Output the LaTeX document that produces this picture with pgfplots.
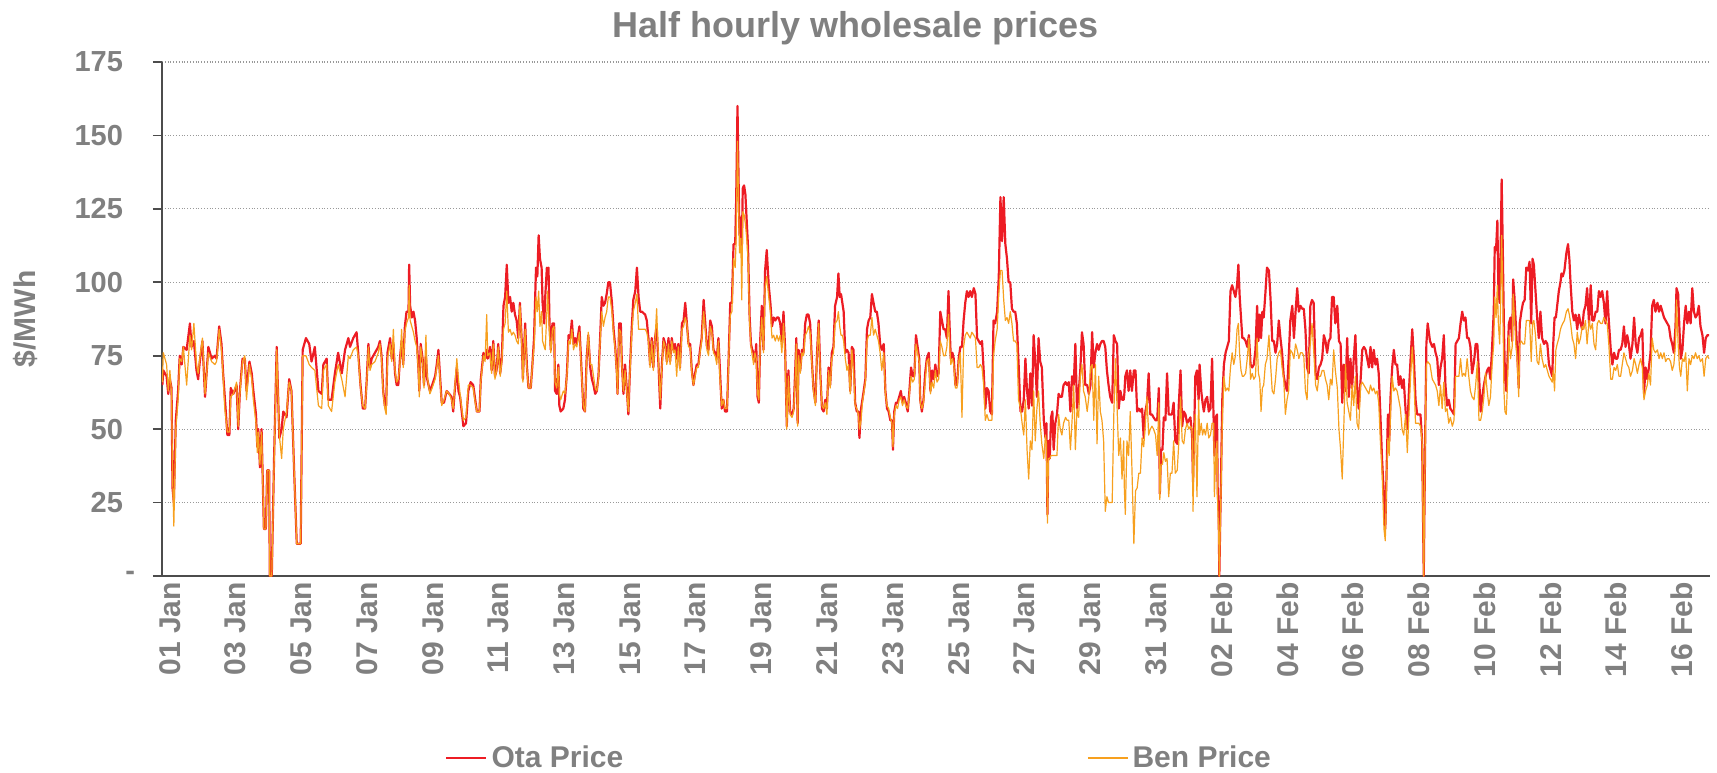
\documentclass[border=0pt]{standalone}
\usepackage{fontspec}
\setmainfont{Liberation Sans}
\usepackage{pgfplots}
\pgfplotsset{compat=1.18}
\usepackage{pgfplotstable}
\definecolor{txtgray}{RGB}{128,128,128}
\definecolor{otared}{RGB}{237,28,36}
\definecolor{benorange}{RGB}{247,160,30}
\pgfplotstableread{
t ota ben
-0.23 65 66
-0.20 70 76
-0.10 68 72
-0.05 62 63
0.00 67 70
0.05 64 62
0.08 30 35
0.12 25 17
0.18 53 50
0.25 63 60
0.30 75 74
0.36 72 73
0.41 78 78
0.51 77 65
0.61 86 82
0.66 78 77
0.73 80 86
0.81 70 72
0.86 67 69
0.91 73 74
0.99 80 81
1.07 61 62
1.17 78 76
1.27 74 73
1.37 75 72
1.42 74 73
1.50 85 84
1.57 79 77
1.62 69 68
1.67 61 57
1.75 48 49
1.81 48 49
1.85 64 61
1.93 62 62
2.03 65 66
2.08 50 51
2.13 63 62
2.21 74 73
2.28 74 75
2.33 63 60
2.42 73 72
2.49 69 67
2.54 63 60
2.62 55 52
2.66 44 42
2.69 50 49
2.74 37 38
2.79 50 49
2.86 16 16
2.92 16 16
2.96 36 36
3.02 36 36
3.04 0 0
3.10 0 0
3.17 40 38
3.25 78 77
3.33 47 48
3.40 50 40
3.45 56 50
3.55 54 56
3.63 67 66
3.70 63 63
3.78 36 36
3.86 11 11
3.98 11 11
4.04 77 75
4.14 81 75
4.24 79 72
4.31 73 71
4.41 78 70
4.52 63 58
4.62 62 57
4.67 72 70
4.77 74 72
4.82 60 58
4.92 60 56
5.02 69 66
5.12 76 72
5.23 69 67
5.33 77 61
5.43 81 75
5.48 78 74
5.58 81 77
5.68 83 78
5.73 76 75
5.80 65 64
5.87 57 58
5.94 57 57
5.99 67 66
6.04 79 78
6.09 71 70
6.14 74 72
6.24 76 73
6.34 78 76
6.39 80 79
6.44 75 74
6.49 63 62
6.54 58 57
6.58 58 55
6.62 76 74
6.70 81 79
6.75 74 73
6.80 79 84
6.85 69 70
6.90 65 66
6.95 65 67
7.00 74 72
7.05 80 84
7.10 72 71
7.15 85 83
7.20 90 86
7.26 90 88
7.28 106 99
7.31 92 87
7.36 88 85
7.41 90 83
7.46 87 80
7.51 81 78
7.56 71 70
7.59 63 61
7.63 79 78
7.69 74 73
7.73 65 64
7.79 75 82
7.83 67 68
7.91 63 62
7.98 65 64
8.07 68 67
8.12 72 71
8.17 77 75
8.22 68 67
8.27 59 58
8.34 59 60
8.42 63 63
8.50 62 62
8.57 61 60
8.62 56 57
8.68 65 66
8.73 71 74
8.78 63 67
8.83 61 62
8.88 56 57
8.93 51 53
9.01 52 54
9.08 63 65
9.15 66 65
9.23 65 64
9.29 60 59
9.34 56 56
9.42 56 56
9.46 67 66
9.54 76 75
9.59 74 73
9.64 77 89
9.67 74 75
9.74 78 76
9.79 70 69
9.84 80 79
9.89 68 67
9.94 70 70
9.99 79 78
10.05 69 68
10.10 74 73
10.15 92 84
10.20 95 86
10.25 106 97
10.30 93 83
10.35 95 84
10.40 90 82
10.45 93 83
10.50 89 82
10.55 87 80
10.60 81 79
10.65 93 92
10.71 79 78
10.74 67 66
10.81 86 84
10.86 72 71
10.91 64 64
10.98 64 64
11.03 72 72
11.08 81 78
11.14 105 95
11.18 102 90
11.22 116 97
11.26 108 85
11.31 105 90
11.34 93 80
11.39 86 78
11.42 95 77
11.47 105 90
11.49 104 97
11.52 105 90
11.55 86 82
11.59 77 76
11.64 86 84
11.69 86 85
11.72 63 66
11.77 62 64
11.82 72 71
11.85 58 62
11.89 56 60
11.97 57 63
12.02 60 62
12.08 69 68
12.13 82 80
12.18 81 79
12.23 87 84
12.28 79 77
12.33 81 79
12.38 79 78
12.46 85 83
12.53 69 68
12.58 57 58
12.63 56 56
12.68 74 73
12.73 82 83
12.79 71 72
12.84 67 72
12.89 65 68
12.94 62 64
12.99 63 63
13.04 68 67
13.09 81 80
13.14 95 90
13.19 92 85
13.24 93 88
13.29 96 90
13.34 100 95
13.39 100 95
13.45 93 90
13.50 84 82
13.55 78 77
13.60 69 68
13.62 62 62
13.67 86 84
13.72 86 83
13.75 73 72
13.80 62 63
13.85 72 70
13.90 64 63
13.95 55 56
14.00 71 70
14.05 84 82
14.10 94 90
14.16 97 93
14.21 105 96
14.26 95 84
14.31 90 84
14.36 90 84
14.46 89 84
14.51 87 83
14.56 81 80
14.61 72 71
14.66 81 80
14.71 71 70
14.76 81 80
14.81 85 91
14.87 71 72
14.92 57 60
14.97 72 71
15.02 81 80
15.07 79 78
15.12 73 72
15.17 81 79
15.22 73 72
15.27 81 80
15.32 77 76
15.37 79 77
15.42 74 68
15.47 79 78
15.52 71 70
15.58 86 84
15.63 87 85
15.68 93 88
15.73 86 86
15.78 79 78
15.83 79 78
15.88 70 69
15.93 65 65
15.98 69 68
16.03 72 71
16.08 72 71
16.13 77 76
16.18 81 80
16.24 94 90
16.29 86 84
16.34 78 77
16.39 77 75
16.44 87 85
16.49 85 83
16.54 77 76
16.59 76 75
16.64 74 72
16.69 81 80
16.74 69 66
16.79 57 58
16.84 60 60
16.89 56 57
16.95 56 57
17.00 74 73
17.05 93 89
17.10 93 90
17.15 113 108
17.20 113 105
17.23 128 115
17.27 160 148
17.30 137 130
17.33 116 110
17.37 122 115
17.40 110 94
17.43 132 124
17.47 133 123
17.51 130 120
17.55 121 115
17.59 112 108
17.64 88 86
17.68 79 78
17.72 77 75
17.76 76 72
17.80 73 76
17.84 79 74
17.88 61 62
17.92 59 60
17.96 80 79
18.01 92 88
18.06 77 76
18.11 104 98
18.16 111 102
18.22 99 95
18.27 93 90
18.32 85 81
18.37 88 82
18.42 87 80
18.47 88 82
18.52 88 80
18.57 86 82
18.62 80 76
18.67 90 86
18.72 77 75
18.77 51 50
18.82 70 68
18.87 56 55
18.93 55 54
18.98 57 56
19.03 71 68
19.06 81 79
19.10 52 51
19.13 77 75
19.18 70 69
19.23 77 76
19.28 76 75
19.33 86 82
19.38 89 83
19.43 89 85
19.48 86 83
19.53 74 73
19.58 64 63
19.64 59 58
19.69 76 75
19.74 87 86
19.79 69 68
19.84 57 58
19.89 56 57
19.94 60 59
19.99 57 55
20.04 71 70
20.09 65 64
20.14 76 74
20.19 78 76
20.24 92 86
20.30 95 87
20.34 103 90
20.38 95 85
20.42 96 82
20.46 93 82
20.50 90 80
20.55 76 74
20.60 77 70
20.65 76 72
20.70 63 62
20.75 78 77
20.80 77 70
20.85 59 58
20.90 56 57
20.95 56 55
20.98 47 50
21.03 57 53
21.07 60 59
21.11 63 62
21.16 67 66
21.21 84 80
21.26 87 82
21.31 88 82
21.36 96 88
21.41 93 82
21.46 90 84
21.51 90 82
21.56 86 80
21.61 79 76
21.66 77 70
21.72 79 76
21.77 63 62
21.82 57 58
21.87 56 57
21.92 53 54
21.97 53 52
22.00 43 44
22.04 56 55
22.09 59 58
22.14 59 57
22.19 61 60
22.24 63 61
22.29 59 58
22.34 61 60
22.39 59 58
22.45 56 57
22.50 63 62
22.55 71 68
22.60 68 66
22.65 68 67
22.70 82 79
22.75 78 76
22.80 74 73
22.83 60 59
22.88 56 57
22.93 60 59
22.98 69 66
23.03 74 73
23.09 76 74
23.14 63 62
23.19 70 66
23.24 67 64
23.29 72 70
23.34 68 66
23.39 69 67
23.44 90 80
23.49 87 78
23.54 84 75
23.59 84 75
23.64 81 78
23.69 97 89
23.72 86 80
23.76 74 72
23.81 76 74
23.85 74 72
23.90 65 64
23.95 65 64
24.00 74 73
24.05 78 76
24.10 78 54
24.15 87 78
24.20 93 82
24.25 97 83
24.30 95 82
24.35 97 81
24.40 95 83
24.46 98 82
24.51 96 81
24.56 81 71
24.61 80 71
24.66 79 72
24.71 80 71
24.76 70 65
24.81 57 53
24.86 64 55
24.91 63 53
24.96 56 53
25.01 55 53
25.06 87 75
25.11 86 80
25.17 90 84
25.22 102 96
25.27 129 104
25.32 114 104
25.37 129 94
25.42 113 87
25.47 108 88
25.52 100 86
25.57 100 90
25.62 91 86
25.67 90 80
25.72 90 80
25.77 86 79
25.82 73 60
25.88 56 57
25.93 56 52
25.98 60 48
26.03 74 60
26.08 63 43
26.13 57 33
26.18 69 46
26.23 58 43
26.28 82 63
26.33 73 46
26.38 61 57
26.43 81 63
26.48 73 52
26.53 71 45
26.59 53 40
26.64 47 48
26.67 52 45
26.70 21 18
26.73 46 40
26.77 40 40
26.81 54 41
26.85 56 41
26.89 43 41
26.94 52 41
26.99 55 41
27.04 62 55
27.09 61 50
27.14 61 48
27.19 65 52
27.25 66 54
27.30 65 53
27.35 66 53
27.40 56 43
27.45 68 53
27.50 65 65
27.55 79 43
27.60 57 57
27.65 62 54
27.70 70 68
27.75 83 72
27.80 79 63
27.85 65 61
27.91 65 56
27.96 62 61
28.01 65 71
28.06 83 72
28.11 71 53
28.16 76 72
28.21 79 45
28.26 77 68
28.31 79 56
28.36 80 53
28.41 80 46
28.46 78 22
28.51 70 27
28.56 65 25
28.61 61 25
28.67 59 25
28.72 82 55
28.77 80 74
28.82 79 57
28.87 57 41
28.92 63 47
28.97 60 33
29.02 60 46
29.04 62 30
29.07 68 21
29.12 70 46
29.17 63 41
29.22 70 56
29.27 63 37
29.33 70 11
29.38 70 29
29.43 56 30
29.48 57 35
29.53 56 35
29.58 57 47
29.63 47 44
29.68 56 52
29.73 59 61
29.78 69 48
29.83 55 50
29.88 55 51
29.93 54 50
29.99 53 48
30.04 53 41
30.09 64 59
30.12 28 26
30.16 43 38
30.20 43 38
30.24 54 42
30.29 53 39
30.34 69 40
30.39 55 27
30.44 55 35
30.49 55 35
30.54 59 46
30.59 46 35
30.65 45 36
30.70 59 46
30.75 70 61
30.80 51 46
30.85 56 45
30.90 55 50
30.95 52 52
31.00 53 50
31.05 54 51
31.10 48 50
31.13 32 22
31.17 52 46
31.20 68 55
31.25 70 27
31.30 60 60
31.33 72 48
31.38 63 52
31.42 59 48
31.46 56 50
31.51 60 48
31.56 61 52
31.61 56 47
31.66 57 48
31.71 74 52
31.76 52 52
31.78 41 27
31.82 54 40
31.86 55 46
31.88 29 24
31.91 22 15
31.93 0 0
31.96 20 18
31.98 32 28
32.02 60 52
32.07 72 68
32.12 76 63
32.17 78 64
32.22 80 63
32.27 97 71
32.32 99 76
32.37 97 72
32.42 95 75
32.47 99 84
32.51 106 86
32.55 95 75
32.59 88 70
32.63 81 68
32.67 81 68
32.73 80 69
32.78 78 74
32.83 82 81
32.88 72 67
32.93 71 69
32.98 72 67
33.03 77 68
33.08 92 81
33.12 80 69
33.16 89 67
33.20 81 56
33.24 90 64
33.28 88 65
33.33 96 72
33.38 105 74
33.44 104 82
33.49 94 72
33.54 80 63
33.59 80 62
33.64 76 67
33.69 79 74
33.74 87 76
33.79 81 77
33.84 76 71
33.89 68 67
33.94 65 55
33.99 63 60
34.04 74 63
34.09 87 77
34.15 92 76
34.20 81 74
34.25 90 79
34.30 98 77
34.35 90 74
34.40 92 76
34.45 91 76
34.50 91 75
34.55 84 63
34.60 71 60
34.65 69 75
34.70 92 79
34.75 94 86
34.80 93 77
34.86 69 65
34.91 67 63
34.96 71 68
35.01 72 68
35.06 74 70
35.11 82 70
35.16 80 67
35.21 76 65
35.26 80 60
35.31 81 67
35.36 95 65
35.41 95 77
35.46 86 70
35.52 92 64
35.57 80 50
35.62 79 43
35.67 59 33
35.72 72 52
35.77 63 72
35.82 81 59
35.87 61 56
35.92 74 53
35.97 64 65
36.02 74 58
36.07 82 68
36.12 65 52
36.17 57 50
36.23 67 65
36.28 77 66
36.33 78 65
36.38 77 64
36.43 74 63
36.48 71 62
36.53 78 65
36.58 71 63
36.63 77 64
36.68 72 62
36.73 74 63
36.78 69 59
36.83 55 46
36.88 40 36
36.94 27 16
36.98 16 12
37.02 36 34
37.06 55 47
37.10 46 41
37.14 61 56
37.19 71 68
37.24 77 63
37.29 72 64
37.34 72 63
37.39 65 60
37.44 68 57
37.49 64 50
37.54 67 48
37.60 56 55
37.65 50 42
37.70 63 55
37.75 74 68
37.80 84 78
37.85 74 67
37.90 60 52
37.95 55 52
38.00 55 52
38.05 55 51
38.10 46 46
38.15 0 0
38.20 53 52
38.23 79 72
38.27 86 73
38.34 80 72
38.41 78 67
38.46 79 66
38.51 76 65
38.56 74 63
38.61 65 58
38.66 71 65
38.71 74 57
38.76 82 66
38.81 65 56
38.86 58 57
38.91 60 52
38.96 57 54
39.02 56 51
39.07 55 53
39.12 79 68
39.17 80 68
39.22 81 68
39.27 86 74
39.32 90 68
39.37 87 69
39.42 88 68
39.47 81 74
39.52 81 68
39.57 78 63
39.62 69 61
39.68 73 60
39.73 79 65
39.78 79 73
39.83 69 53
39.88 56 53
39.93 61 56
39.98 65 61
40.03 68 69
40.08 70 63
40.13 71 58
40.18 67 61
40.23 78 72
40.28 90 79
40.31 112 95
40.35 111 88
40.39 121 99
40.42 97 86
40.46 93 79
40.49 111 93
40.52 135 116
40.55 115 99
40.59 84 63
40.62 68 56
40.66 63 55
40.69 71 63
40.74 86 82
40.79 88 74
40.84 80 78
40.87 101 96
40.91 95 88
40.95 86 79
40.99 77 74
41.04 64 61
41.07 86 79
41.12 90 80
41.17 93 79
41.22 94 79
41.27 105 87
41.32 104 87
41.37 107 87
41.42 86 73
41.46 108 86
41.50 106 87
41.55 97 82
41.60 88 73
41.65 81 72
41.70 90 79
41.75 81 74
41.81 79 71
41.86 80 72
41.91 79 70
41.96 72 68
42.01 70 67
42.06 68 66
42.09 79 70
42.13 88 63
42.17 88 77
42.21 92 79
42.26 97 81
42.31 100 84
42.34 103 85
42.38 102 86
42.43 104 87
42.49 110 90
42.54 113 91
42.58 108 89
42.62 99 86
42.67 90 81
42.72 87 79
42.77 89 74
42.82 84 83
42.87 89 79
42.92 86 81
42.97 84 85
43.02 90 84
43.07 92 87
43.12 98 79
43.18 86 87
43.23 99 84
43.28 87 86
43.33 87 79
43.38 90 77
43.43 90 86
43.48 97 87
43.53 95 86
43.58 97 86
43.63 93 88
43.68 86 87
43.73 97 86
43.78 87 79
43.84 77 67
43.89 72 67
43.94 76 71
43.99 74 70
44.04 74 72
44.09 77 68
44.14 77 68
44.19 79 72
44.24 85 76
44.29 78 74
44.34 82 72
44.39 79 71
44.44 74 68
44.50 79 70
44.55 88 74
44.60 79 72
44.65 76 69
44.70 81 72
44.75 82 74
44.80 84 71
44.85 62 60
44.90 71 63
44.95 67 65
45.00 71 69
45.05 76 65
45.10 92 81
45.15 94 77
45.20 90 76
45.26 93 77
45.31 90 74
45.36 92 76
45.41 90 74
45.46 88 76
45.51 87 73
45.56 86 74
45.61 85 74
45.66 81 73
45.71 79 70
45.76 76 72
45.81 85 79
45.84 98 94
45.89 96 79
45.93 84 71
45.97 74 68
46.02 77 74
46.07 86 73
46.12 92 76
46.17 86 63
46.22 90 74
46.27 86 72
46.32 98 75
46.37 90 74
46.42 88 76
46.47 89 74
46.52 92 75
46.57 85 73
46.63 82 74
46.68 76 68
46.73 81 74
46.78 82 75
46.83 82 74
}\prices
\begin{document}
\begin{tikzpicture}
\useasboundingbox (0,0) rectangle (858.5pt,386pt);
\begin{axis}[
  at={(81pt,98pt)}, anchor=south west,
  scale only axis, width=774pt, height=257pt,
  xmin=-0.24, xmax=46.86, ymin=0, ymax=175,
  axis x line*=bottom, axis y line*=left,
  axis line style={-, draw=black!70, line width=0.8pt},
  xtick={0,2,...,46},
  xticklabels={01 Jan,03 Jan,05 Jan,07 Jan,09 Jan,11 Jan,13 Jan,15 Jan,17 Jan,19 Jan,21 Jan,23 Jan,25 Jan,27 Jan,29 Jan,31 Jan,02 Feb,04 Feb,06 Feb,08 Feb,10 Feb,12 Feb,14 Feb,16 Feb},
  xtick style={draw=none},
  xticklabel style={yshift=5pt, rotate=90, anchor=east, font=\bfseries\fontsize{15}{15}\selectfont, text=txtgray},
  ytick={0,25,...,175},
  yticklabels={-,25\kern6pt,50\kern6pt,75\kern6pt,100\kern6pt,125\kern6pt,150\kern6pt,175\kern6pt},
  ytick style={draw=black!70, line width=0.8pt},
  tick align=outside, major tick length=4.5pt,
  yticklabel style={xshift=-5.5pt, font=\bfseries\fontsize{14.5}{14.5}\selectfont, text=txtgray},
  ymajorgrids, major grid style={draw=gray!80, densely dotted, line width=0.6pt},
  title={Half hourly wholesale prices},
  title style={at={(axis description cs:0.448,1.043)}, anchor=center, yshift=0pt, font=\bfseries\fontsize{18}{18}\selectfont, text=txtgray},
  ylabel={\$/MWh},
  ylabel style={at={(axis description cs:-0.088,0.5)}, anchor=center, font=\bfseries\fontsize{15}{15}\selectfont, text=txtgray},
  legend style={at={(axis description cs:0.451,-0.354)}, anchor=center, draw=none, fill=none, legend columns=2, font=\bfseries\fontsize{15}{15}\selectfont, text=txtgray, /tikz/every even column/.append style={column sep=230pt}},
  legend image code/.code={\draw[#1] (0pt,0pt) -- (20pt,0pt);},
  every axis plot/.append style={line join=round},
]
\addplot[otared, line width=1.1pt, no markers] table[x=t, y=ota]{\prices};
\addlegendentry{Ota Price}
\addplot[benorange, line width=0.6pt, no markers] table[x=t, y=ben]{\prices};
\addlegendentry{Ben Price}
\end{axis}
\end{tikzpicture}
\end{document}
